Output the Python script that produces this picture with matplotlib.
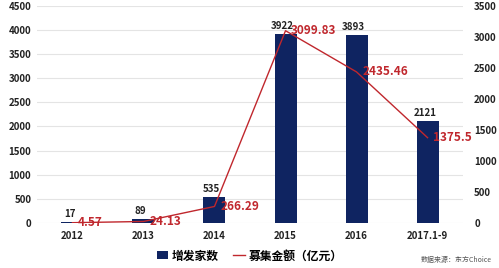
import matplotlib
matplotlib.use('Agg')
import matplotlib.pyplot as plt
import numpy as np

plt.rcParams['font.family'] = ['Noto Sans CJK SC', 'DejaVu Sans']

years = ['2012', '2013', '2014', '2015', '2016', '2017.1-9']
jiashu = [17, 89, 535, 3922, 3893, 2121]
jine = [4.57, 24.13, 266.29, 3099.83, 2435.46, 1375.5]

bar_color = '#0f2461'
line_color = '#c0272d'

fig = plt.figure(figsize=(4.99, 2.68), dpi=100)
ax1 = fig.add_axes([0.074, 0.168, 0.854, 0.81])
ax2 = ax1.twinx()

x = np.arange(len(years))
ax1.bar(x, jiashu, width=0.31, color=bar_color, label='增发家数', zorder=2)
ax2.plot(x, jine, color=line_color, lw=1.0, label='募集金额（亿元）', zorder=3)

for xi, v in zip(x, jiashu):
    ax1.text(xi - 0.04, v + 60, str(v), ha='center', va='bottom', fontsize=7,
             fontweight='bold', color='#222222')
for xi, v in zip(x, jine):
    ax2.text(xi + 0.08, v, f'{v:g}', ha='left', va='center', fontsize=8.5,
             fontweight='bold', color=line_color, zorder=4)

ax1.set_ylim(0, 4500)
ax1.set_yticks(np.arange(0, 4501, 500))
ax2.set_ylim(0, 3500)
ax2.set_yticks(np.arange(0, 3501, 500))
ax1.set_xlim(-0.5, len(years) - 0.5)
ax1.set_xticks(x)
ax1.set_xticklabels(years)

ax1.grid(axis='y', color='#e4e4e4', lw=0.8, zorder=0)
ax1.set_axisbelow(True)
for ax in (ax1, ax2):
    for s in ax.spines.values():
        s.set_visible(False)
    ax.tick_params(length=0, labelsize=7, colors='#222222')
    for lab in ax.get_xticklabels() + ax.get_yticklabels():
        lab.set_fontweight('bold')
ax1.tick_params(axis='y', pad=4)
ax1.tick_params(axis='x', pad=6)
ax2.tick_params(axis='y', pad=8)

h1, l1 = ax1.get_legend_handles_labels()
h2, l2 = ax2.get_legend_handles_labels()
fig.legend(h1 + h2, l1 + l2, loc='center', bbox_to_anchor=(0.5, 0.045), ncol=2,
           frameon=False, handlelength=1.0, handletextpad=0.3,
           columnspacing=1.2, prop={'weight': 'bold', 'size': 8.5})

fig.text(0.985, 0.03, '数据来源：东方Choice', ha='right', va='center',
         fontsize=5, color='#555555')

fig.savefig('out.png', dpi=100)
